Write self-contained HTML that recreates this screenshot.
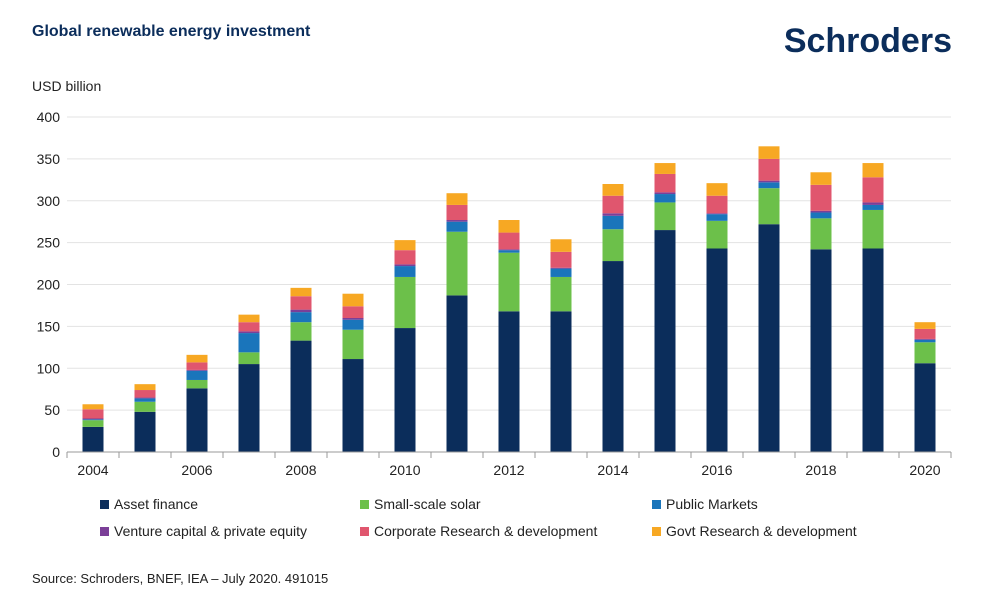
<!DOCTYPE html>
<html><head><meta charset="utf-8"><style>
body{margin:0;background:#fff;font-family:"Liberation Sans",sans-serif}
svg text{font-family:"Liberation Sans",sans-serif}
</style></head><body>
<svg width="997" height="598" viewBox="0 0 997 598">
<text x="32" y="36" font-size="16" font-weight="bold" fill="#0b2d5b">Global renewable energy investment</text>
<text x="952" y="52" text-anchor="end" font-size="34" font-weight="bold" fill="#0b2d5b">Schroders</text>
<text x="32" y="91" font-size="14" fill="#222">USD billion</text>
<g id="grid"></g><g id="bars"></g><g id="axis"></g>
<g id="legend"></g>
<text x="32" y="583" font-size="13" fill="#222">Source: Schroders, BNEF, IEA – July 2020. 491015</text>
</svg>
<script>
const years=[2004,2005,2006,2007,2008,2009,2010,2011,2012,2013,2014,2015,2016,2017,2018,2019,2020];
const assetFinance=[30,48,76,105,133,111,148,187,168,168,228,265,243,272,242,243,106];
const smallSolar=[8,12,10,14,22,35,61,76,70,41,38,33,33,43,37,46,25];
const publicMarkets=[1,4,11,23,12,12,13,12,3,10,16,10,8,7,7,6,3];
const ventureCapital=[1,1,1,2,3,2,2,2,1,1,3,2,1,2,2,3,1];
const corporateRD=[11,9,9,11,16,14,17,18,20,19,21,22,21,26,31,30,12];
const govtRD=[6,7,9,9,10,15,12,14,15,15,14,13,15,15,15,17,8];
const yTicks=[0,50,100,150,200,250,300,350,400];
const seriesNames=["Asset finance","Small-scale solar","Public Markets","Venture capital & private equity","Corporate Research & development","Govt Research & development"];
const series=[assetFinance,smallSolar,publicMarkets,ventureCapital,corporateRD,govtRD];
const colors=["#0b2d5b","#6cc04a","#1a75bb","#7b3f98","#e0566e","#f7a823"];
const NS="http://www.w3.org/2000/svg";
const x0=67,x1=951,y0=452,yTop=117,maxV=400;
const band=(x1-x0)/years.length,bw=21;
const y=v=>y0-(v/maxV)*(y0-yTop);
const xc=i=>x0+band*(i+0.5);
function mk(tag,attrs,parent){const e=document.createElementNS(NS,tag);for(const k in attrs)e.setAttribute(k,attrs[k]);document.getElementById(parent).appendChild(e);return e;}
yTicks.forEach(t=>{
 if(t>0){const l=mk('line',{x1:x0,x2:x1,y1:y(t),y2:y(t),stroke:'#e3e3e3','stroke-width':1},'grid');
 
 }
 const tx=mk('text',{x:60,y:y(t)+5,'text-anchor':'end','font-size':14,fill:'#222'},'grid');tx.textContent=t;
 
 
});
years.forEach((yr,i)=>{
 let cum=0;
 series.forEach((s,k)=>{
  const v=s[i];const r=mk('rect',{x:xc(i)-bw/2,y:y(cum+v),width:bw,height:y(cum)-y(cum+v),fill:colors[k]},'bars');
  
  
  cum+=v;
 });
 if(i%2===0){const t=mk('text',{x:xc(i),y:475,'text-anchor':'middle','font-size':14,fill:'#222'},'axis');t.textContent=yr;
 
 }
});
const ax=mk('line',{x1:x0,x2:x1,y1:y0,y2:y0,stroke:'#999','stroke-width':1},'axis');


for(let i=0;i<=years.length;i++){const tk=mk('line',{x1:x0+band*i,x2:x0+band*i,y1:y0,y2:y0+6,stroke:'#999'},'axis');
 
 }
const lx=[100,360,652],ly=[509,536];
seriesNames.forEach((n,k)=>{
 const cx=lx[k%3],cy=ly[Math.floor(k/3)];
 const r=mk('rect',{x:cx,y:cy-9,width:9,height:9,fill:colors[k]},'legend');
 
 
 const t=mk('text',{x:cx+14,y:cy,'font-size':14,fill:'#222'},'legend');t.textContent=n;
 
 
});
</script>
</body></html>
